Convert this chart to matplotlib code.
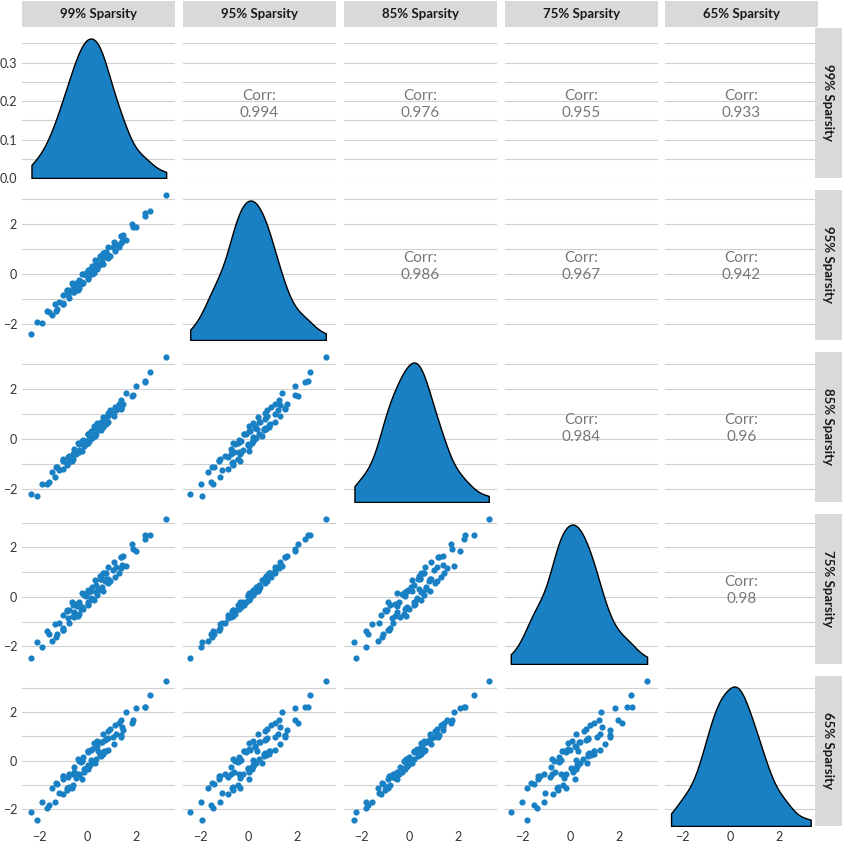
import numpy as np
import matplotlib
matplotlib.use("Agg")
import matplotlib.pyplot as plt

plt.rcParams['font.family'] = ['Lato', 'DejaVu Sans']

labels = ["99% Sparsity", "95% Sparsity", "85% Sparsity", "75% Sparsity", "65% Sparsity"]
corr_text = {(0, 1): "0.994", (0, 2): "0.976", (0, 3): "0.955", (0, 4): "0.933",
             (1, 2): "0.986", (1, 3): "0.967", (1, 4): "0.942",
             (2, 3): "0.984", (2, 4): "0.96", (3, 4): "0.98"}

base = [-2.3, -2.1, -1.9, -1.7, -1.6, -1.5, -1.4, -1.3, -1.2, -1.1, -1.0, -0.95, -0.9, -0.8, -0.75,
        -0.7, -0.6, -0.55, -0.5, -0.45, -0.4, -0.35, -0.3, -0.25, -0.2, -0.15, -0.1, -0.05, 0.0, 0.05,
        0.1, 0.12, 0.18, 0.22, 0.3, 0.35, 0.4, 0.45, 0.5, 0.55, 0.6, 0.7, 0.75, 0.8, 0.9, 0.95,
        1.0, 1.1, 1.2, 1.3, 1.4, 1.5, 1.6, 1.8, 1.9, 2.0, 2.2, 2.4, 2.6, 3.2,
        -1.05, -0.65, -0.32, -0.12, 0.08, 0.28, 0.52, 0.68, 0.88, 1.15, -0.85, -0.42, 0.02, 0.38, 0.62,
        -1.25, -0.78, -0.48, -0.22, 0.15, 0.42, 0.72, 1.05, 1.35, -0.58, -0.08, 0.25, 0.58, 0.82, 1.25]
noise_a = [0.1, -0.2, 0.15, 0.05, -0.3, 0.25, -0.1, 0.2, -0.05, 0.3, -0.25, 0.1, 0.35, -0.15, 0.0,
           0.2, -0.35, 0.15, 0.05, -0.2, 0.3, -0.1, 0.25, -0.3, 0.1, 0.0, -0.2, 0.35, -0.05, 0.15,
           -0.25, 0.3, -0.15, 0.05, 0.2, -0.3, 0.1, -0.05, 0.25, -0.2, 0.35, -0.1, 0.0, 0.15, -0.35,
           0.2, 0.05, -0.25, 0.3, -0.1, 0.15, -0.2, 0.25, 0.0, -0.3, 0.1, 0.2, -0.15, 0.05, 0.1,
           0.3, -0.15, 0.2, -0.25, 0.1, -0.05, 0.25, -0.3, 0.15, 0.0, -0.2, 0.3, -0.1, 0.05, -0.35,
           0.15, -0.3, 0.05, 0.25, -0.1, 0.2, -0.25, 0.35, -0.15, 0.1, -0.05, 0.3, -0.2, 0.0, 0.25]
noise_b = [-0.15, 0.25, -0.05, 0.3, 0.1, -0.2, 0.35, -0.3, 0.15, -0.1, 0.2, -0.35, 0.0, 0.25, -0.15,
           0.05, 0.3, -0.25, 0.2, 0.1, -0.3, 0.15, -0.05, 0.35, -0.2, 0.25, 0.1, -0.15, 0.3, -0.35,
           0.05, -0.1, 0.2, -0.3, 0.15, 0.25, -0.2, 0.35, -0.05, 0.1, -0.25, 0.3, -0.15, 0.0, 0.2,
           -0.3, 0.15, 0.25, -0.1, 0.35, -0.2, 0.05, -0.3, 0.2, 0.1, -0.15, 0.3, 0.05, -0.1, 0.0,
           -0.2, 0.35, -0.1, 0.15, -0.3, 0.25, 0.0, 0.2, -0.35, 0.1, 0.3, -0.15, 0.25, -0.2, 0.05,
           -0.25, 0.1, 0.3, -0.2, 0.05, -0.35, 0.15, -0.1, 0.25, 0.0, 0.35, -0.3, 0.1, -0.15, 0.2]
# per-variable noise amounts
amount_a = [0.35, -0.2, 0.6, -0.5, 1.0]
amount_b = [0.3, 0.55, -0.2, 0.75, -0.6]

series = [np.array(base) + sa * np.array(noise_a) + sb * np.array(noise_b)
          for sa, sb in zip(amount_a, amount_b)]

blue = "#1a80c4"
grid = "#d0d0d0"
W, H = 843, 850
fig = plt.figure(figsize=(W / 100, H / 100), dpi=100)

col_x = [22, 183, 344, 505, 665]
pw = 153
row_y = [28, 190, 352, 514, 676]
ph = 150
xlim = (-2.7, 3.6)


def kde(v, xs, bw=0.38):
    d = (xs[:, None] - v[None, :]) / bw
    return np.exp(-0.5 * d ** 2).sum(1) / (len(v) * bw * np.sqrt(2 * np.pi))


ylim0 = (0, 0.39)
for i in range(5):
    yv = series[i]
    ylim = (yv.min() - 0.25, yv.max() + 0.2)
    for j in range(5):
        ax = fig.add_axes([col_x[j] / W, 1 - (row_y[i] + ph) / H, pw / W, ph / H])
        for s in ax.spines.values():
            s.set_visible(False)
        ax.tick_params(length=0, labelsize=9, colors="#333333")
        ax.set_xlim(xlim)
        if i == 0:
            ax.set_ylim(ylim0)
            ax.set_yticks([0, 0.1, 0.2, 0.3])
            ax.set_yticklabels(["0.0", "0.1", "0.2", "0.3"])
            minor = [0.05, 0.15, 0.25, 0.35]
        else:
            ax.set_ylim(ylim)
            ax.set_yticks([-2, 0, 2])
            minor = [-1, 1, 3]
        ax.grid(axis="y", color=grid, lw=0.8, zorder=0)
        for g in minor:
            ax.axhline(g, color=grid, lw=0.8, zorder=0)

        if j == i:
            xv = series[j]
            xs = np.linspace(xv.min(), xv.max(), 200)
            d = kde(xv, xs)
            lo, hi = ax.get_ylim()
            dd = lo + d / d.max() * (hi - lo) * 0.93
            ax.fill_between(xs, lo, dd, color=blue, ec="black", lw=1.0, zorder=3)
        elif j < i:
            ax.scatter(series[j], yv, s=20, color=blue, lw=0, zorder=3)
        else:
            ax.text(0.5, 0.49, "Corr:\n" + corr_text[(i, j)], transform=ax.transAxes,
                    ha="center", va="center", fontsize=11, color="#777777",
                    linespacing=1.3, zorder=4)
        ax.set_xticks([-2, 0, 2])
        if i < 4:
            ax.set_xticklabels([])
        if j > 0:
            ax.set_yticklabels([])

for j in range(5):
    sa = fig.add_axes([col_x[j] / W, 1 - 27 / H, pw / W, 26 / H])
    sa.set_facecolor("#d9d9d9")
    sa.set_xticks([]); sa.set_yticks([])
    for s in sa.spines.values():
        s.set_visible(False)
    sa.text(0.5, 0.5, labels[j], ha="center", va="center", fontsize=9.5,
            fontweight="bold", color="#1a1a1a")
for i in range(5):
    sa = fig.add_axes([815 / W, 1 - (row_y[i] + ph) / H, 27 / W, ph / H])
    sa.set_facecolor("#d9d9d9")
    sa.set_xticks([]); sa.set_yticks([])
    for s in sa.spines.values():
        s.set_visible(False)
    sa.text(0.5, 0.5, labels[i], ha="center", va="center", fontsize=9.5, rotation=-90,
            fontweight="bold", color="#1a1a1a")

fig.savefig("out.png", dpi=100)
